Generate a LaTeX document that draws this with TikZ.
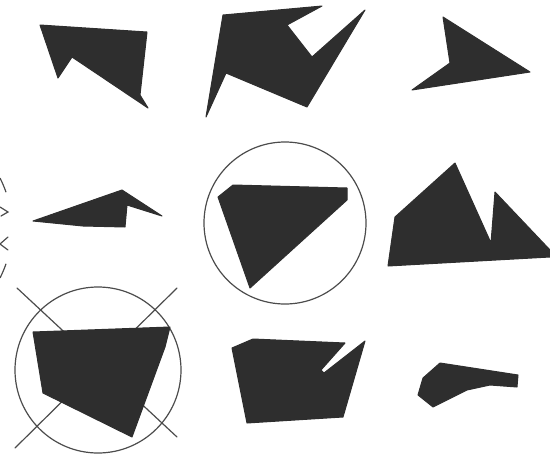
\documentclass[tikz,border=0pt]{standalone}
\usepackage{tikz}

\begin{document}
\begin{tikzpicture}[x=1pt, y=-1pt,
    blob/.style={fill=black!82, draw=black!82, line width=1pt, line join=round},
    ring/.style={draw=black!70, line width=1.2pt},
    cross/.style={draw=black!70, line width=1.2pt, line cap=round}]
    \useasboundingbox (0,0) rectangle (550,456);

    % Top row
    \fill [blob] (40,25) -- (147,32) -- (140,95) -- (148,108) -- (72,57) -- (58,78) -- cycle;
    \fill [blob] (223,15) -- (322,6) -- (287,25) -- (312,57) -- (365,10) -- (307,107)
        -- (226,73) -- (206,117) -- cycle;
    \fill [blob] (443,17) -- (530,72) -- (412,90) -- (450,63) -- cycle;

    % Middle row
    \fill [blob] (33,221) -- (122,190) -- (162,216) -- (127,205) -- (125,227) -- (83,226) -- cycle;
    \draw [ring] (285,223) circle [radius=81];
    \fill [blob] (218,197) -- (233,185) -- (347,188) -- (347,200) -- (250,288) -- cycle;
    \fill [blob] (388,266) -- (395,217) -- (455,163) -- (491,243) -- (495,192)
        -- (550,250) -- (550,257) -- cycle;

    % Cut-off shape at the left edge
    \draw [ring] (-98,228) ++(27:110) arc [start angle=27, end angle=19, radius=110];
    \draw [ring] (-98,228) ++(-19:110) arc [start angle=-19, end angle=-27, radius=110];
    \draw [cross] (0,207) -- (8,212) -- (1,216);
    \draw [cross] (8,237) -- (0,244) -- (8,250);

    % Bottom row
    \draw [cross] (17,288) -- (177,437);
    \draw [cross] (177,288) -- (15,448);
    \draw [ring] (98,370) circle [radius=83];
    \fill [blob] (33,332) -- (170,327) -- (165,347) -- (132,437) -- (43,393) -- cycle;
    \fill [blob] (232,348) -- (253,339) -- (345,343) -- (321,370) -- (324,373) -- (365,341)
        -- (343,417) -- (247,423) -- cycle;
    \fill [blob] (440,363) -- (505,373) -- (518,375) -- (517,387) -- (490,385) -- (467,390)
        -- (433,407) -- (418,395) -- (423,378) -- cycle;
\end{tikzpicture}
\end{document}
